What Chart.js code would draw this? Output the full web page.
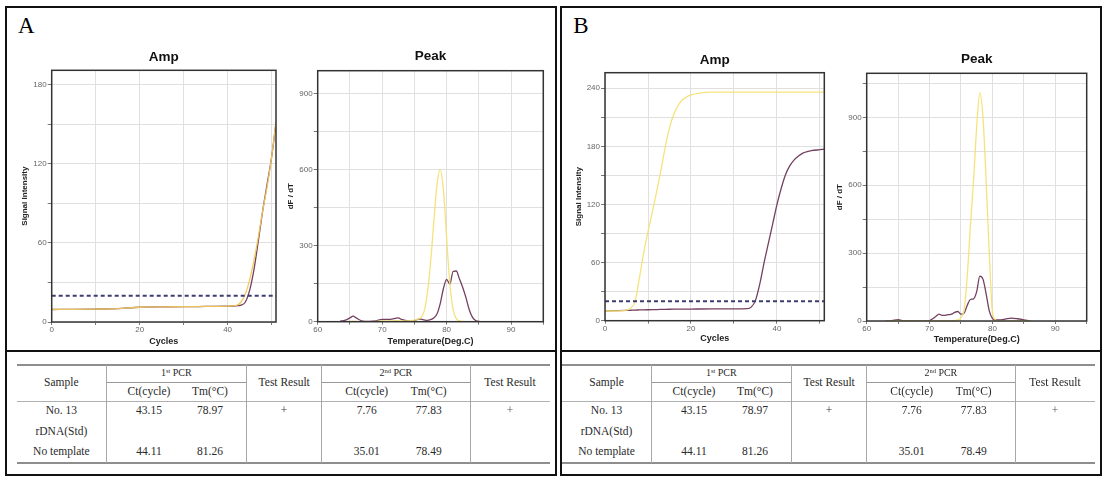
<!DOCTYPE html>
<html><head><meta charset="utf-8">
<script src="https://cdn.jsdelivr.net/npm/chart.js@4.4.1/dist/chart.umd.min.js"></script>
<style>
html,body{margin:0;padding:0;background:#fff;}
body{width:1112px;height:478px;position:relative;overflow:hidden;font-family:'Liberation Serif','Times New Roman',serif;}
.frame{position:absolute;border:2px solid #111;box-sizing:border-box;}
.ln{position:absolute;}
.t{position:absolute;transform:translate(-50%,-50%);white-space:nowrap;font-size:11.5px;line-height:1;color:#2a2a2a;}
.t sup{font-size:0.65em;vertical-align:0.45em;line-height:0;}
.pl{display:inline-block;will-change:transform;transform:translateZ(0);}
.lab{position:absolute;transform:translate(-50%,-50%);font-size:23px;line-height:1;color:#000;}
</style></head><body>
<script>
// ---------------- DATA ----------------
// Panel A - amplification (1st PCR)
const cyclesA = [0, 5, 10, 15, 20, 25, 30, 35, 40, 41, 42, 43, 44, 45, 46, 47, 48, 49, 50, 51];
const ampA_No13 =       [9.5, 9.6, 9.8, 10.2, 11.2, 11.5, 11.6, 11.8, 12.0, 12.2, 12.6, 15, 21, 32, 47, 65, 85, 103, 125, 152];
const ampA_NoTemplate = [9.5, 9.6, 9.8, 10.2, 11.2, 11.5, 11.6, 11.8, 12.0, 12.1, 12.3, 12.8, 15, 24, 40, 62, 85, 105, 125, 151];
const thresholdA = 20;

// Panel A - melt peak
const tempA = [63.5, 64, 65, 65.5, 66, 67, 68, 69, 70, 71, 72, 72.5, 73, 74, 75, 75.5, 76, 76.5, 77, 77.5, 78, 78.5, 79, 79.5, 80, 80.5, 81, 81.5, 82, 82.5, 83, 83.5, 84, 84.5, 85, 86];
const peakA_No13 =       [0, 0, 1, 2, 1, 0, 0, 1, 3, 3, 4, 4, 3, 3, 6, 9, 16, 40, 110, 230, 390, 540, 600, 520, 330, 150, 50, 12, 3, 1, 0, 0, 0, 0, 0, 0];
const peakA_NoTemplate = [3, 4, 15, 22, 14, 2, 1, 3, 9, 9, 13, 15, 9, 3, 4, 9, 10, 7, 5, 8, 15, 30, 70, 130, 167, 148, 198, 200, 168, 135, 95, 48, 18, 5, 1, 0];

// Panel B - amplification (2nd PCR)
const cyclesB = [0, 3, 5, 6, 7, 8, 9, 10, 11, 12, 13, 14, 15, 16, 17, 18, 19, 20, 22, 25, 30, 33, 34, 35, 36, 37, 38, 39, 40, 41, 42, 43, 44, 45, 46, 47, 48, 50, 51];
const ampB_No13 =       [10, 10, 10.8, 13, 20, 44, 70, 92, 112, 133, 155, 179, 199, 213, 222, 228, 231, 233, 235, 236, 236, 236, 236, 236, 236, 236, 236, 236, 236, 236, 236, 236, 236, 236, 236, 236, 236, 236, 236];
const ampB_NoTemplate = [10, 10.3, 10.6, 10.8, 11, 11.1, 11.2, 11.3, 11.4, 11.5, 11.6, 11.7, 11.8, 11.9, 12, 12, 12, 12, 12.1, 12.2, 12.3, 12.5, 14, 21, 38, 60, 80, 100, 120, 137, 151, 160, 166, 170, 173, 174.5, 175.5, 176.5, 177];
const thresholdB = 20;

// Panel B - melt peak
const tempB = [63, 64, 65, 66, 69, 70, 70.5, 71, 71.5, 72, 72.5, 73, 73.5, 74, 74.5, 75, 75.5, 76, 76.5, 77, 77.5, 78, 78.5, 79, 79.5, 80, 80.5, 81, 82, 83, 84, 85, 86];
const peakB_No13 =       [0, 0, 2, 0, 0, 0, 0, 1, 1, 1, 1, 1, 1, 2, 5, 15, 50, 200, 420, 620, 860, 1010, 900, 620, 300, 40, 5, 0, 0, 0, 0, 0, 0];
const peakB_NoTemplate = [0, 2, 6, 0, 0, 2, 10, 20, 30, 25, 25, 28, 30, 38, 42, 30, 35, 70, 95, 98, 130, 198, 185, 120, 45, 12, 5, 5, 8, 13, 10, 5, 0];

// Table
const tableSamples = ['No. 13', 'rDNA(Std)', 'No template'];
const ct1st = ['43.15', '', '44.11'];
const tm1st = ['78.97', '', '81.26'];
const result1st = ['+', '', ''];
const ct2nd = ['7.76', '', '35.01'];
const tm2nd = ['77.83', '', '78.49'];
const result2nd = ['+', '', ''];

// ---------------- STYLE ----------------
const YELLOW = 'rgba(243,224,110,0.9)';
const YELLOW_AMP_A = 'rgba(240,200,90,0.95)';
const PURPLE = '#74405f';
const THRESH = '#3d3d72';
const SANS = "'Liberation Sans', Arial, sans-serif";

function pts(xs, ys){ return xs.map((x,i)=>({x:x, y:ys[i]})); }

const framePlugin = {
  id:'plotFrame',
  afterDraw(chart){
    const {ctx, chartArea:{left,top,right,bottom}} = chart;
    ctx.save(); ctx.strokeStyle='#333'; ctx.lineWidth=1.5;
    ctx.strokeRect(left,top,right-left,bottom-top); ctx.restore();
  }
};

function lineDS(data, color, extra){
  return Object.assign({data:data, borderColor:color, borderWidth:1.3, pointRadius:0, fill:false,
    cubicInterpolationMode:'monotone'}, extra||{});
}

function makeChart(g, cfg){
  const left = Math.floor(g.l - 40), top = Math.floor(g.t - 30);
  const W = Math.ceil(g.r + 6 - left), H = Math.ceil(g.b + 28 - top);
  const yW = g.l - left, titleH = g.t - top, padR = W - (g.r - left), xH = H - (g.b - top);
  const cv = document.createElement('canvas');
  cv.width = W; cv.height = H;
  cv.style.cssText = `position:absolute;left:${left}px;top:${top}px;width:${W}px;height:${H}px;`;
  document.body.appendChild(cv);
  const tLH = 13.5*1.2;
  const tickFont = {family:SANS, size:8};
  new Chart(cv, {
    type:'line',
    data:{datasets:cfg.datasets},
    plugins:[framePlugin],
    options:{
      responsive:false, animation:false, devicePixelRatio:1,
      layout:{padding:{left:0,right:padR,top:0,bottom:0}},
      plugins:{
        legend:{display:false}, tooltip:{enabled:false},
        title:{display:true, text:cfg.title, fullSize:false, color:'#111',
          font:{family:SANS, size:13.5, weight:'bold', lineHeight:1.2},
          padding:{top: titleH - cfg.titleAbove - tLH/2, bottom: cfg.titleAbove - tLH/2}}
      },
      scales:{
        x:{type:'linear', min:cfg.xMin, max:cfg.xMax,
          afterFit:(s)=>{ s.height = xH; },
          ticks:{stepSize:cfg.xStep, autoSkip:false, includeBounds:false, maxRotation:0, minRotation:0,
            padding:0, color:'#666', font:tickFont,
            callback:(v)=> (Math.abs(v % cfg.xLab) < 1e-6 ? String(v) : '')},
          grid:{color:'#e0e0e0', tickColor:'#777', tickLength:3, lineWidth:1},
          border:{display:false},
          title:{display:true, text:cfg.xTitle, color:'#222',
            font:{family:SANS, size:9, weight:'bold', lineHeight:1.2},
            padding:{top:0, bottom: xH - cfg.xTitleBelow - 5.4}}
        },
        y:{type:'linear', min:0, max:cfg.yMax,
          afterFit:(s)=>{ s.width = yW; },
          ticks:{stepSize:cfg.yStep, autoSkip:false, includeBounds:false,
            padding:1, color:'#666', font:tickFont,
            callback:(v)=> (Math.abs(v % cfg.yLab) < 1e-6 ? String(v) : '')},
          grid:{color:'#e0e0e0', tickColor:'#777', tickLength:4, lineWidth:1},
          border:{display:false},
          title:{display:true, text:cfg.yTitle, color:'#222',
            font:{family:SANS, size:8, weight:'bold', lineHeight:1.2},
            padding:{top: yW - 26.7 - 4.8, bottom:0}}
        }
      }
    }
  });
}

// ---------------- FRAMES & LABELS ----------------
function addDiv(cls, css, html){
  const d = document.createElement('div'); d.className = cls; d.style.cssText = css;
  if (html !== undefined) d.innerHTML = html;
  document.body.appendChild(d); return d;
}
addDiv('frame','left:5px;top:6px;width:552px;height:470px;');
addDiv('frame','left:560px;top:6px;width:542px;height:470px;');
addDiv('ln','left:6px;top:350px;width:550px;height:2px;background:#111;');
addDiv('ln','left:561px;top:350px;width:540px;height:2px;background:#111;');
addDiv('lab','left:26.2px;top:24.7px;','A');
addDiv('lab','left:580.8px;top:25px;','B');

// ---------------- CHARTS ----------------
makeChart({l:51.7,t:70.3,r:276,b:322}, {
  title:'Amp', titleAbove:13, xTitle:'Cycles', xTitleBelow:19.7, yTitle:'Signal Intensity',
  xMin:0, xMax:51, xStep:10, xLab:20, yMax:191, yStep:30, yLab:60,
  datasets:[
    lineDS([{x:0,y:thresholdA},{x:51,y:thresholdA}], THRESH, {borderDash:[4,3], borderWidth:2, cubicInterpolationMode:'default', tension:0}),
    lineDS(pts(cyclesA, ampA_No13), YELLOW_AMP_A),
    lineDS(pts(cyclesA, ampA_NoTemplate), PURPLE)
  ]
});
makeChart({l:317.7,t:70.7,r:543.3,b:321.7}, {
  title:'Peak', titleAbove:14, xTitle:'Temperature(Deg.C)', xTitleBelow:20, yTitle:'dF / dT',
  xMin:60, xMax:95, xStep:5, xLab:10, yMax:990, yStep:150, yLab:300,
  datasets:[
    lineDS(pts(tempA, peakA_No13), YELLOW),
    lineDS(pts(tempA, peakA_NoTemplate), PURPLE)
  ]
});
makeChart({l:605,t:72.7,r:824.3,b:320.7}, {
  title:'Amp', titleAbove:12, xTitle:'Cycles', xTitleBelow:18.3, yTitle:'Signal Intensity',
  xMin:0, xMax:51, xStep:10, xLab:20, yMax:256, yStep:30, yLab:60,
  datasets:[
    lineDS([{x:0,y:thresholdB},{x:51,y:thresholdB}], THRESH, {borderDash:[4,3], borderWidth:2, cubicInterpolationMode:'default', tension:0}),
    lineDS(pts(cyclesB, ampB_No13), YELLOW),
    lineDS(pts(cyclesB, ampB_NoTemplate), PURPLE)
  ]
});
makeChart({l:866.7,t:73.3,r:1086.7,b:321}, {
  title:'Peak', titleAbove:14, xTitle:'Temperature(Deg.C)', xTitleBelow:18.3, yTitle:'dF / dT',
  xMin:60, xMax:95, xStep:5, xLab:10, yMax:1095, yStep:150, yLab:300,
  datasets:[
    lineDS(pts(tempB, peakB_No13), YELLOW),
    lineDS(pts(tempB, peakB_NoTemplate), PURPLE)
  ]
});

// ---------------- TABLES ----------------
function buildTable(cols){
  const [c0,c1,c2,c3,c4,c5] = cols;
  const yTop=364.5, ySub=382, yHead=401.5, yBot=463;
  const line = (x,y,w,h,col)=> addDiv('ln',`left:${x}px;top:${y}px;width:${w}px;height:${h}px;background:${col};`);
  line(c0, yTop-1, c5-c0, 2, '#8e8e8e');
  line(c1, ySub-0.5, c2-c1, 1, '#9a9a9a');
  line(c3, ySub-0.5, c4-c3, 1, '#9a9a9a');
  line(c0, yHead-0.5, c5-c0, 1, '#b0b0b0');
  line(c0, yBot-1, c5-c0, 2, '#8e8e8e');
  [c1,c2,c3,c4].forEach(x=> line(x-0.5, yTop, 1, yBot-yTop, '#a8a8a8'));
  const txt = (x,y,s,fs)=> addDiv('t',`left:${x}px;top:${y}px;${fs?'font-size:'+fs+'px;':''}`, s);
  const ct1 = c1+43, tm1 = c1+104, ct2 = c3+45, tm2 = c3+107;
  txt((c0+c1)/2, 383, 'Sample');
  txt((c1+c2)/2, 373, '1<sup>st</sup> PCR', 10);
  txt((c2+c3)/2, 383, 'Test Result');
  txt((c3+c4)/2, 373, '2<sup>nd</sup> PCR', 10);
  txt((c4+c5)/2, 383, 'Test Result');
  txt(ct1, 392, 'Ct(cycle)'); txt(tm1, 392, 'Tm(°C)');
  txt(ct2, 392, 'Ct(cycle)'); txt(tm2, 392, 'Tm(°C)');
  const rowY = [411, 431.5, 452];
  tableSamples.forEach((s,i)=>{
    const y = rowY[i];
    txt((c0+c1)/2, y, s);
    if (ct1st[i]) txt(ct1, y, ct1st[i]);
    if (tm1st[i]) txt(tm1, y, tm1st[i]);
    if (result1st[i]) txt((c2+c3)/2, y, '<span class="pl" style="color:#333">' + result1st[i] + '</span>');
    if (ct2nd[i]) txt(ct2, y, ct2nd[i]);
    if (tm2nd[i]) txt(tm2, y, tm2nd[i]);
    if (result2nd[i]) txt((c4+c5)/2, y, '<span class="pl" style="color:#555">' + result2nd[i] + '</span>');
  });
}
buildTable([16.7, 106, 246.7, 321.7, 470, 550]);
buildTable([562, 651, 791.7, 866.7, 1015, 1095]);
</script>
</body></html>
